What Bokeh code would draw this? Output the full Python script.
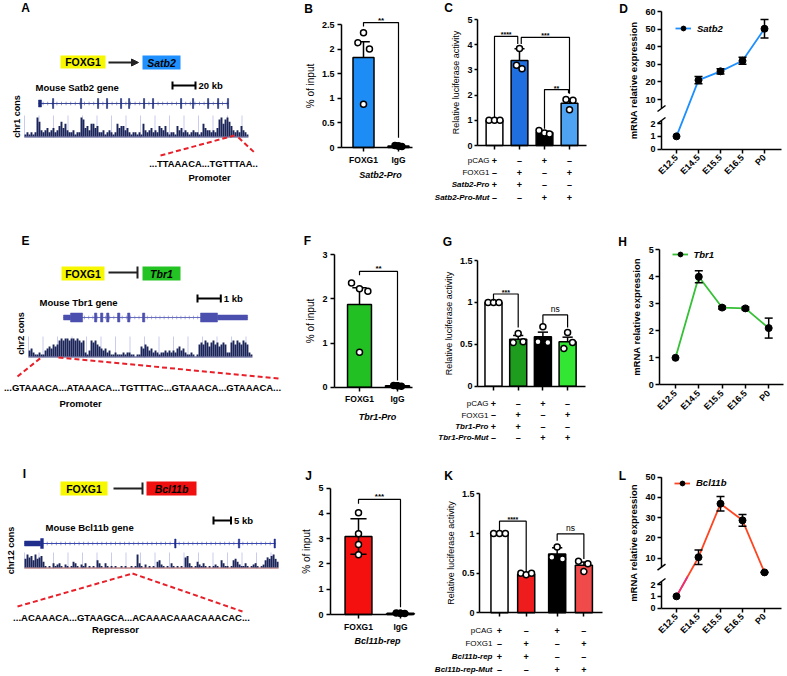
import math
import numpy as np
from bokeh.plotting import figure
from bokeh.models import Range1d, FixedTicker, Arrow, NormalHead, TeeHead, Legend, LegendItem
from bokeh.layouts import row, column
from bokeh.core.properties import value
from bokeh.embed import file_html
from bokeh.resources import INLINE

FONT = "Liberation Sans"

# ======================= DATA =======================
# --- B / F / J : ChIP-qPCR (% of input) ---
chip_groups = ["FOXG1", "IgG"]
satb2_chip_mean = [1.83, 0.03]
satb2_chip_sem = [0.32, 0.01]
satb2_chip_pts = [[2.33, 2.13, 2.00, 0.88], [0.04, 0.03, 0.02, 0.03]]
satb2_chip_jit = [[0.0, -0.16, 0.17, 0.0], [-0.1, 0.0, 0.1, 0.0]]

tbr1_chip_mean = [1.87, 0.03]
tbr1_chip_sem = [0.38, 0.01]
tbr1_chip_pts = [[2.36, 2.23, 2.17, 0.79], [0.04, 0.03, 0.02, 0.03]]
tbr1_chip_jit = [[-0.21, 0.0, 0.22, 0.0], [-0.1, 0.0, 0.1, 0.0]]

bcl11b_chip_mean = [3.08, 0.05]
bcl11b_chip_sem = [0.70, 0.01]
bcl11b_chip_pts = [[4.02, 3.19, 2.77, 2.36], [0.06, 0.05, 0.04, 0.05]]
bcl11b_chip_jit = [[0.0, 0.0, 0.0, 0.0], [-0.1, 0.0, 0.1, 0.0]]

# --- C / G / K : luciferase reporter ---
luc_signs = [["+", "–", "+", "–"], ["–", "+", "–", "+"], ["+", "+", "–", "–"], ["–", "–", "+", "+"]]

satb2_luc_rows = ["pCAG", "FOXG1", "Satb2-Pro", "Satb2-Pro-Mut"]
satb2_luc_mean = [1.00, 3.37, 0.52, 1.68]
satb2_luc_sem = [0.00, 0.47, 0.05, 0.17]
satb2_luc_pts = [[1.0, 1.0, 1.0], [3.85, 3.18, 3.05], [0.60, 0.50, 0.46], [1.83, 1.80, 1.42]]
satb2_luc_jit = [[-0.22, 0.0, 0.22], [0.0, -0.12, 0.1], [-0.22, 0.0, 0.2], [-0.14, 0.14, 0.0]]
satb2_luc_colors = ["white", "#1f6fe0", "black", "#4ea3f2"]
satb2_luc_sig = [(0.0, 0.93, 4.33, 1.12, 4.03, "****"), (1.07, 3.0, 4.29, 4.03, 2.05, "***"),
                 (2.0, 2.96, 2.22, 0.66, 2.07, "**")]

tbr1_luc_rows = ["pCAG", "FOXG1", "Tbr1-Pro", "Tbr1-Pro-Mut"]
tbr1_luc_mean = [1.00, 0.56, 0.59, 0.53]
tbr1_luc_sem = [0.00, 0.045, 0.055, 0.055]
tbr1_luc_pts = [[1.0, 1.0, 1.0], [0.63, 0.52, 0.53], [0.71, 0.53, 0.52], [0.64, 0.52, 0.45]]
tbr1_luc_jit = [[-0.22, 0.0, 0.22], [0.0, -0.2, 0.2], [0.0, -0.2, 0.2], [0.0, 0.2, -0.15]]
tbr1_luc_colors = ["white", "#1e9c1e", "black", "#33e633"]
tbr1_luc_sig = [(0.0, 1.0, 1.10, 1.02, 0.70, "***"), (2.0, 3.0, 0.85, 0.745, 0.70, "ns")]

bcl11b_luc_rows = ["pCAG", "FOXG1", "Bcl11b-rep", "Bcl11b-rep-Mut"]
bcl11b_luc_group = [0, 0, 1, 1]
bcl11b_luc_mean = [1.00, 0.49, 0.74, 0.60]
bcl11b_luc_sem = [0.00, 0.01, 0.08, 0.04]
bcl11b_luc_pts = [[1.0, 1.0, 1.0], [0.50, 0.48, 0.50], [0.83, 0.70, 0.68], [0.65, 0.62, 0.52]]
bcl11b_luc_jit = [[-0.22, 0.0, 0.22], [-0.2, 0.0, 0.2], [0.0, -0.2, 0.2], [-0.2, 0.15, 0.0]]
bcl11b_luc_colors = ["white", "#ee1c1c", "black", "#f04a4a"]
bcl11b_luc_sig = [(0, 1, 1.155, 1.04, 0.51, "****"), (2, 3, 0.995, 0.91, 0.68, "ns")]

# --- D / H / L : developmental mRNA expression ---
stages = ["E12.5", "E14.5", "E15.5", "E16.5", "P0"]
satb2_expr = [1.0, 21.0, 26.0, 32.0, 50.2]
satb2_expr_sem = [0.0, 2.0, 1.5, 2.0, 5.3]
satb2_expr_ticks = [0, 1, 2, 10, 20, 30, 40, 50, 60]
tbr1_expr = [1.0, 4.0, 2.86, 2.83, 2.1]
tbr1_expr_sem = [0.0, 0.22, 0.05, 0.05, 0.37]
tbr1_expr_ticks = [0, 1, 2, 3, 4, 5]
bcl11b_expr = [1.0, 10.5, 36.9, 28.7, 3.0]
bcl11b_expr_sem = [0.0, 3.6, 3.6, 2.9, 0.2]
bcl11b_expr_ticks = [0, 1, 2, 10, 20, 30, 40, 50]

# --- A / E / I : gene models (kb) and conservation (0-9) ---
satb2_exon_start = [0.0, 12.2, 36.5, 51.3, 59.1, 71.3, 78.3, 91.3, 99.1, 123.5, 133.9, 147.0, 155.7, 164.3]
satb2_exon_end = [2.6, 13.2, 37.5, 52.3, 60.1, 72.3, 79.3, 92.3, 100.1, 124.5, 134.9, 148.0, 156.7, 165.3]
satb2_exon_half = [3.5, 5, 5, 5, 5, 5, 5, 5, 5, 5, 5, 5, 5, 5]
satb2_cons = [1, 2, 1, 2, 1, 2, 9, 7, 3, 2, 3, 4, 2, 3, 4, 2, 3, 5, 7, 4, 6, 3, 2, 2, 3, 1, 2, 2, 9, 8, 4,
              5, 3, 6, 6, 4, 5, 2, 2, 3, 1, 2, 3, 2, 1, 2, 6, 4, 5, 5, 3, 4, 2, 1, 2, 2, 1, 2, 1, 6, 3, 2,
              3, 4, 2, 3, 2, 5, 4, 3, 5, 2, 1, 2, 2, 1, 5, 3, 4, 2, 3, 2, 1, 2, 3, 2, 2, 1, 2, 6, 4, 3, 3,
              2, 3, 2, 4, 8, 9, 6, 8, 9, 7, 5, 3, 2, 3, 2, 5, 3, 2, 1]

tbr1_exon_start = [0.0, 0.3, 1.33, 1.59, 1.85, 2.32, 2.75, 3.39, 5.88, 6.61]
tbr1_exon_end = [0.3, 0.82, 1.43, 1.69, 1.95, 2.42, 2.85, 3.49, 6.61, 7.9]
tbr1_exon_half = [2.5, 4.5, 4.5, 4.5, 4.5, 4.5, 4.5, 4.5, 4.5, 2.5]
tbr1_cons = [3, 4, 2, 1, 1, 2, 1, 1, 3, 4, 5, 4, 6, 5, 6, 8, 9, 8, 9, 9, 8, 9, 9, 8, 9, 8, 7, 8, 2, 1,
             3, 8, 7, 8, 6, 5, 4, 3, 4, 2, 3, 1, 1, 2, 1, 1, 1, 2, 1, 2, 2, 1, 1, 0, 1, 1, 5, 4, 6, 5,
             3, 4, 2, 3, 2, 1, 2, 2, 3, 2, 3, 2, 3, 2, 4, 5, 3, 4, 2, 1, 1, 2, 1, 0, 1, 6, 7, 6, 8, 7,
             5, 7, 8, 6, 7, 5, 6, 7, 6, 2, 2, 7, 8, 6, 8, 7, 6, 8, 7, 6, 2, 1]

bcl11b_exon_start = [0.0, 4.6, 42.9, 61.1, 71.3]
bcl11b_exon_end = [4.6, 5.4, 43.3, 61.5, 71.7]
bcl11b_exon_half = [2.5, 5, 4.5, 4.5, 4.5]
bcl11b_cons = [6, 9, 7, 8, 5, 9, 6, 7, 8, 4, 1, 0, 1, 0, 3, 1, 2, 3, 1, 0, 2, 1, 0, 1, 4, 3, 1, 0, 2, 1,
               3, 0, 1, 0, 1, 0, 5, 3, 1, 0, 3, 1, 0, 1, 0, 1, 0, 0, 1, 0, 1, 0, 0, 1, 0, 1, 9, 3, 1, 0,
               2, 0, 1, 0, 1, 0, 4, 5, 2, 1, 0, 1, 0, 3, 1, 0, 1, 0, 1, 0, 7, 8, 3, 1, 0, 1, 4, 2, 1, 3,
               1, 0, 1, 0, 1, 2, 1, 0, 5, 3, 1, 1, 0, 1, 5, 6, 4, 2, 1, 1, 3, 1, 0, 1, 2, 3, 1, 0, 1, 2,
               5, 7, 6, 8, 9, 6, 4]

# ======================= GEOMETRY (window pixels) =======================
ROWS = [(0, 215), (215, 450), (450, 675)]
COLS = [(0, 290), (290, 420), (420, 615), (615, 786)]


def box(r, c):
    return (COLS[c][0], ROWS[r][0], COLS[c][1], ROWS[r][1])


G = {
    "B": dict(fig=box(0, 1), x0=363, xppu=35.0, y0=147, yppu=49.2, ax=341, xend=412, bw=0.6,
              letter=(308, 8), xlab=(380, 174)),
    "F": dict(fig=box(1, 1), x0=359, xppu=38.0, y0=386.7, yppu=44.2, ax=334, xend=412, bw=0.63,
              letter=(307, 240), xlab=(377, 416.5)),
    "J": dict(fig=box(2, 1), x0=358, xppu=42.0, y0=614, yppu=25.3, ax=330, xend=412, bw=0.64,
              letter=(308, 475), xlab=(377, 640)),
    "C": dict(fig=box(0, 2), x0=494, xppu=25.0, y0=145, yppu=25.2, ax=477, xend=586, bw=0.67,
              letter=(448, 7), name_x=489, rows=[160, 172, 184, 197]),
    "G": dict(fig=box(1, 2), x0=493, xppu=24.7, y0=385.7, yppu=83.8, ax=477, xend=585, bw=0.69,
              letter=(447, 241), name_x=488, rows=[403, 414.5, 426, 437]),
    "K": dict(fig=box(2, 2), x0=499, xppu=26.7, y0=612.3, yppu=79.3, ax=479, xend=602, bw=0.64,
              letter=(448, 475), name_x=492, rows=[630, 643, 656, 669]),
    "D": dict(fig=box(0, 3), x0=676, xppu=22.0, y0=148.7, yppu=1.0, ax=661, xend=781,
              letter=(623, 8), legend=(675, 28)),
    "H": dict(fig=box(1, 3), x0=675, xppu=23.3, y0=384.3, yppu=1.0, ax=659.3, xend=783,
              letter=(622, 241), legend=(671.5, 254.3)),
    "L": dict(fig=box(2, 3), x0=676, xppu=22.0, y0=607.7, yppu=1.0, ax=661, xend=781,
              letter=(622, 475), legend=(674, 482.7)),
}


def no_align(p):
    if "frame_align" in p.properties():
        p.frame_align = False


def style_axes(p):
    p.outline_line_color = None
    p.xgrid.visible = False
    p.ygrid.visible = False
    for ax in p.axis:
        ax.axis_line_width = 1.5
        ax.axis_line_color = "black"
        ax.major_tick_line_width = 1.5
        ax.major_tick_line_color = "black"
        ax.major_tick_out = 4
        ax.major_tick_in = 0
        ax.minor_tick_line_color = None
        ax.major_label_text_font = FONT
        ax.major_label_text_font_style = "bold"
        ax.major_label_text_font_size = "8.5px"
        ax.major_label_text_color = "black"
        ax.major_label_standoff = 3
        ax.axis_label_text_font = FONT
        ax.axis_label_text_color = "black"
        ax.axis_label_standoff = 4
    p.yaxis.major_label_text_font_size = "9px"


def chart_fig(g):
    L, T, R, B = g["fig"]

    def X(rx):
        return (rx - g["x0"]) / g["xppu"]

    def Y(ry):
        return (g["y0"] - ry) / g["yppu"]

    p = figure(width=R - L, height=B - T, x_range=Range1d(X(L), X(R)), y_range=Range1d(Y(B), Y(T)),
               title=None, output_backend="svg", toolbar_location=None, min_border=0)
    no_align(p)
    style_axes(p)
    p.yaxis.fixed_location = X(g["ax"])
    p.xaxis.fixed_location = 0
    p.xaxis.bounds = (X(g["ax"]), X(g["xend"]))
    return p, X, Y


def ptext(p, x, y, s, size, style="bold", align="center", baseline="middle", angle=0.0, y_offset=0):
    p.text(x=[x], y=[y], text=[s], text_font=value(FONT), text_font_size=size, text_font_style=style,
           text_align=align, text_baseline=baseline, angle=angle, text_color="black", y_offset=y_offset)


def draw_bracket(p, sig, size):
    x1, x2, top, b1, b2, s = sig
    p.line([x1, x1, x2, x2], [b1, top, top, b2], line_color="black", line_width=1.2)
    ptext(p, (x1 + x2) / 2, top, s, size, style="normal" if s == "ns" else "bold", baseline="bottom",
          y_offset=-1 if s == "ns" else 2)


def bars_with_points(p, xs, means, sems, pts, jit, colors, bw, pt_fill, lower=False):
    p.vbar(x=xs, top=means, bottom=0, width=bw, fill_color=colors, line_color="black", line_width=1.5)
    cap = bw * 0.3
    tops = [m + s for m, s in zip(means, sems)]
    p.segment(x0=xs, y0=means, x1=xs, y1=tops, line_color="black", line_width=1.5)
    p.segment(x0=[x - cap for x in xs], y0=tops, x1=[x + cap for x in xs], y1=tops, line_color="black", line_width=1.5)
    if lower:
        lows = [m - s for m, s in zip(means, sems)]
        p.segment(x0=xs, y0=means, x1=xs, y1=lows, line_color="black", line_width=1.5)
        p.segment(x0=[x - cap for x in xs], y0=lows, x1=[x + cap for x in xs], y1=lows, line_color="black", line_width=1.5)
    px = [x + j for x, js in zip(xs, jit) for j in js]
    py = [v for vs in pts for v in vs]
    pf = [pt_fill[i] for i, vs in enumerate(pts) for _ in vs]
    p.scatter(px, py, marker="circle", size=6, fill_color=pf, line_color="black", line_width=1.5)


def chip_panel(key, letter, means, sems, pts, jit, color, yticks, xlabel, sig, lower=False):
    g = G[key]
    p, X, Y = chart_fig(g)
    xs = list(range(len(chip_groups)))
    bars_with_points(p, xs, means, sems, pts, jit, [color] * len(xs), g["bw"], ["white", "black"], lower)
    draw_bracket(p, sig, "8px")
    p.xaxis.ticker = FixedTicker(ticks=xs)
    p.xaxis.major_label_overrides = {x: c for x, c in zip(xs, chip_groups)}
    p.yaxis.ticker = FixedTicker(ticks=yticks)
    p.yaxis.bounds = (0, yticks[-1])
    p.yaxis.axis_label = "% of input"
    p.yaxis.axis_label_text_font_style = "normal"
    p.yaxis.axis_label_text_font_size = "10px"
    p.yaxis.axis_label_standoff = 3
    ptext(p, X(g["xlab"][0]), Y(g["xlab"][1]), xlabel, "9px", style="bold italic")
    ptext(p, X(g["letter"][0]), Y(g["letter"][1]), letter, "12px")
    return p


def luc_panel(key, letter, xs, means, sems, pts, jit, colors, yticks, rows, sigs):
    g = G[key]
    p, X, Y = chart_fig(g)
    bars_with_points(p, xs, means, sems, pts, jit, colors, g["bw"], ["white"] * 4)
    for s in sigs:
        draw_bracket(p, s, "7px" if s[-1] != "ns" else "8.5px")
    p.xaxis.ticker = FixedTicker(ticks=[], minor_ticks=xs)
    p.xaxis.minor_tick_line_color = "black"
    p.xaxis.minor_tick_line_width = 1.5
    p.xaxis.minor_tick_out = 4
    p.xaxis.minor_tick_in = 0
    p.yaxis.ticker = FixedTicker(ticks=yticks)
    p.yaxis.bounds = (0, yticks[-1])
    p.yaxis.axis_label = "Relative luciferase activity"
    p.yaxis.axis_label_text_font_style = "normal"
    p.yaxis.axis_label_text_font_size = "9px"
    p.yaxis.major_tick_out = 3
    p.yaxis.major_label_standoff = 2
    p.yaxis.axis_label_standoff = 3
    for r, (name, sg) in enumerate(zip(rows, luc_signs)):
        yy = Y(g["rows"][r])
        ptext(p, X(g["name_x"]), yy, name, "8px", style="normal" if r < 2 else "bold italic", align="right")
        for x, s in zip(xs, sg):
            ptext(p, x, yy, s, "9px")
    ptext(p, X(g["letter"][0]), Y(g["letter"][1]), letter, "12px")
    return p


def broken_scale(k_lo, y10, k_hi):
    def f(v):
        return v * k_lo if v <= 2 else y10 + (v - 10) * k_hi
    return f


def expr_panel(key, letter, vals, sems, color, name, yticks, f, broken=False, start_color=None):
    g = G[key]
    p, X, Y = chart_fig(g)
    L, T, R, B = g["fig"]
    xs = list(range(len(stages)))
    ys = [f(v) for v in vals]
    r_line = p.line(xs, ys, line_color=color, line_width=1.8)
    if start_color:
        p.line([xs[0], (xs[0] + xs[1]) / 2], [ys[0], (ys[0] + ys[1]) / 2], line_color=start_color, line_width=1.8)
    sel = [i for i, s in enumerate(sems) if s > 0]
    hi = [f(vals[i] + sems[i]) for i in sel]
    lo = [f(vals[i] - sems[i]) for i in sel]
    ex = [xs[i] for i in sel]
    cap = 4.0 / g["xppu"]
    p.segment(x0=ex, y0=lo, x1=ex, y1=hi, line_color="black", line_width=1.5)
    p.segment(x0=[x - cap for x in ex], y0=hi, x1=[x + cap for x in ex], y1=hi, line_color="black", line_width=1.5)
    p.segment(x0=[x - cap for x in ex], y0=lo, x1=[x + cap for x in ex], y1=lo, line_color="black", line_width=1.5)
    r_pt = p.scatter(xs, ys, marker="circle", size=7, fill_color="black", line_color="black")
    lx, ly = g["legend"]
    leg = Legend(items=[LegendItem(label=name, renderers=[r_line, r_pt])], location=(lx - L, B - ly - 6),
                 label_text_font=FONT, label_text_font_style="bold italic", label_text_font_size="9.5px",
                 label_text_color="black",
                 glyph_width=16, glyph_height=12, label_height=12, label_standoff=6, padding=0, margin=0,
                 spacing=0, border_line_color=None, background_fill_alpha=0)
    p.add_layout(leg)
    tick_pos = [f(t) for t in yticks]
    p.yaxis.ticker = FixedTicker(ticks=tick_pos)
    p.yaxis.major_label_overrides = {tp: str(t) for tp, t in zip(tick_pos, yticks)}
    p.yaxis.bounds = (0, tick_pos[-1])
    p.yaxis.axis_label = "mRNA relative expression"
    p.yaxis.axis_label_text_font_style = "bold"
    p.yaxis.axis_label_text_font_size = "9.5px"
    p.yaxis.axis_label_standoff = 3
    p.yaxis.major_label_standoff = 2
    p.xaxis.ticker = FixedTicker(ticks=xs)
    p.xaxis.major_label_overrides = {x: s for x, s in zip(xs, stages)}
    p.xaxis.major_label_orientation = math.pi / 4
    p.xaxis.major_label_text_font_size = "9px"
    p.yaxis.major_label_text_font_size = "9px"
    if broken:
        p.yaxis.axis_line_color = None
        x_ax = X(g["ax"])
        y_lo_end = f(2) + 3
        y_hi_start = f(10) - 9
        p.line([x_ax, x_ax], [0, y_lo_end], line_color="black", line_width=1.5)
        p.line([x_ax, x_ax], [y_hi_start, tick_pos[-1]], line_color="black", line_width=1.5)
        dx = 4.0 / g["xppu"]
        p.segment(x0=[x_ax - dx] * 2, y0=[y_lo_end - 3, y_hi_start - 3], x1=[x_ax + dx] * 2,
                  y1=[y_lo_end + 3, y_hi_start + 3], line_color="black", line_width=1.5)
    ptext(p, X(g["letter"][0]), Y(g["letter"][1]), letter, "12px")
    return p


# ======================= DIAGRAMS =======================
def diagram(bx, gene_px0, ppk):
    L, T, R, B = bx
    p = figure(width=R - L, height=B - T, x_range=Range1d(L, R), y_range=Range1d(B, T), title=None,
               x_axis_type=None, y_axis_type=None, output_backend="svg", toolbar_location=None, min_border=0)
    no_align(p)
    p.outline_line_color = None
    p.extra_x_ranges = {"kb": Range1d((L - gene_px0) / ppk, (R - gene_px0) / ppk)}
    return p


def draw_header(p, letter, lpos, box1, box2, target, tcolor, arrow_x, arrow_y, inhibit):
    ptext(p, lpos[0], lpos[1], letter, "12px")
    p.quad(left=[box1[0]], right=[box1[1]], top=[box1[2]], bottom=[box1[3]], fill_color="#f7f700", line_color=None)
    ptext(p, (box1[0] + box1[1]) / 2, (box1[2] + box1[3]) / 2, "FOXG1", "10.5px")
    p.quad(left=[box2[0]], right=[box2[1]], top=[box2[2]], bottom=[box2[3]], fill_color=tcolor, line_color=None)
    ptext(p, (box2[0] + box2[1]) / 2, (box2[2] + box2[3]) / 2, target, "10.5px", style="bold italic")
    head = TeeHead(size=12, line_width=2, line_color="#222222") if inhibit else \
        NormalHead(size=7, fill_color="#222222", line_color="#222222")
    p.add_layout(Arrow(end=head, x_start=arrow_x[0], y_start=arrow_y, x_end=arrow_x[1], y_end=arrow_y,
                       line_width=2, line_color="#222222"))


def draw_gene(p, y, starts, ends, halves, color, intron_color, step_kb):
    p.line(x=[starts[0], ends[-1]], y=[y, y], x_range_name="kb", line_color=intron_color, line_width=1)
    ch = np.arange(starts[0] + step_kb, ends[-1], step_kb)
    p.segment(x0=ch, y0=[y - 1.8] * len(ch), x1=ch, y1=[y + 1.8] * len(ch), x_range_name="kb",
              line_color=intron_color, line_width=0.8, line_alpha=0.7)
    p.quad(left=starts, right=ends, top=[y - h for h in halves], bottom=[y + h for h in halves],
           x_range_name="kb", fill_color=color, line_color=color, line_width=0.5)


def draw_cons(p, cons, kb0, kb1, base, hmax, guide_px, color, base_color):
    n = len(cons)
    w = (kb1 - kb0) / n
    xs = kb0 + w * (np.arange(n) + 0.5)
    p.segment(x0=guide_px, y0=[base - hmax - 2] * len(guide_px), x1=guide_px, y1=[base + 1] * len(guide_px),
              line_color="#c9cbef", line_width=1)
    p.line(x=[kb0, kb1], y=[base + 0.5, base + 0.5], x_range_name="kb", line_color=base_color, line_width=1)
    p.vbar(x=xs, width=w * 0.95, bottom=base, top=[base - hmax * c / 9.0 for c in cons], x_range_name="kb",
           fill_color=color, line_color=None)


def scale_bar(p, x, y, length_px, label):
    p.add_layout(Arrow(start=TeeHead(size=8, line_width=2), end=TeeHead(size=8, line_width=2),
                       x_start=x, y_start=y, x_end=x + length_px, y_end=y, line_width=2))
    ptext(p, x + length_px + 3, y, label, "9.5px", align="left")


RED = "#e8202a"

# ---- A ----
pA = diagram(box(0, 0), 38, 1.15)
draw_header(pA, "A", (25, 7), (60, 105, 55, 68), (142, 180, 55, 69), "Satb2", "#1e90ff", (108, 138), 62, False)
ptext(pA, 35, 87, "Mouse Satb2 gene", "9.5px", align="left")
scale_bar(pA, 172, 85, 20 * 1.15, "20 kb")
draw_cons(pA, satb2_cons, -12.2, 182.6, 136, 19, list(np.arange(24, 249, 14.5)), "#1b2559", "#3a3f80")
draw_gene(pA, 103, satb2_exon_start, satb2_exon_end, satb2_exon_half, "#1b2a78", "#3d4a9c", 4.0)
ptext(pA, 16, 116, "chr1 cons", "9px", angle=math.pi / 2)
pA.line([160, 234], [155, 135], line_color=RED, line_width=2, line_dash="5 3")
pA.line([238, 255], [137, 153], line_color=RED, line_width=2, line_dash="5 3")
ptext(pA, 203, 163, "...TTAAACA...TGTTTAA..", "9.4px")
ptext(pA, 209, 177, "Promoter", "9.5px")

# ---- E ----
pE = diagram(box(1, 0), 63, 23.3)
draw_header(pE, "E", (25, 240), (61, 104, 266, 280), (142, 180, 266, 280), "Tbr1", "#22c322", (108, 137), 272, True)
ptext(pE, 39, 302, "Mouse Tbr1 gene", "9.5px", align="left")
scale_bar(pE, 197, 298, 23.3, "1 kb")
draw_cons(pE, tbr1_cons, -1.5, 8.11, 356, 18, list(np.arange(28, 253, 14.5)), "#1b2559", "#3a3f80")
draw_gene(pE, 317, tbr1_exon_start, tbr1_exon_end, tbr1_exon_half, "#4b4fae", "#6a6fc0", 0.18)
ptext(pE, 20, 333, "chr2 cons", "9px", angle=math.pi / 2)
pE.line([17, 42], [376, 356], line_color=RED, line_width=2, line_dash="5 3")
pE.line([58, 278], [357, 378], line_color=RED, line_width=2, line_dash="5 3")
ptext(pE, 142, 387, "...GTAAACA...ATAAACA...TGTTTAC...GTAAACA...GTAAACA...", "9.5px")
ptext(pE, 80, 403, "Promoter", "9.5px")

# ---- I ----
pI = diagram(box(2, 0), 24, 3.5)
draw_header(pI, "I", (24, 473), (60, 107, 481, 495), (146, 196, 481, 495), "Bcl11b", "#f01010", (113, 142), 488, True)
ptext(pI, 45, 527, "Mouse Bcl11b gene", "9.5px", align="left")
scale_bar(pI, 213, 520, 5 * 3.5, "5 kb")
draw_cons(pI, bcl11b_cons, 0.0, 72.6, 567, 13, list(np.arange(24, 279, 14.5)), "#1b2559", "#a04848")
draw_gene(pI, 543, bcl11b_exon_start, bcl11b_exon_end, bcl11b_exon_half, "#1f2d8c", "#3a4ab0", 1.3)
ptext(pI, 10, 550, "chr12 cons", "9px", angle=math.pi / 2)
pI.line([17, 132], [606, 573], line_color=RED, line_width=2, line_dash="5 3")
pI.line([132, 242], [573, 611], line_color=RED, line_width=2, line_dash="5 3")
ptext(pI, 131, 617, "...ACAAACA...GTAAGCA...ACAAACAAACAAACAC...", "9.5px")
ptext(pI, 115, 629, "Repressor", "9.5px")

# ---- B / F / J ----
pB = chip_panel("B", "B", satb2_chip_mean, satb2_chip_sem, satb2_chip_pts, satb2_chip_jit, "#1e8cf5",
                [0, 0.5, 1.0, 1.5, 2.0, 2.5], "Satb2-Pro", (0, 1, 2.54, 2.46, 0.2, "**"))
pF = chip_panel("F", "F", tbr1_chip_mean, tbr1_chip_sem, tbr1_chip_pts, tbr1_chip_jit, "#22c022",
                [0, 1, 2, 3], "Tbr1-Pro", (0, 1, 2.62, 2.53, 0.15, "**"))
pJ = chip_panel("J", "J", bcl11b_chip_mean, bcl11b_chip_sem, bcl11b_chip_pts, bcl11b_chip_jit, "#f51010",
                [0, 1, 2, 3, 4, 5], "Bcl11b-rep", (0, 1, 4.55, 4.38, 0.29, "***"), lower=True)

# ---- C / G / K ----
pC = luc_panel("C", "C", [0, 1, 2, 3], satb2_luc_mean, satb2_luc_sem, satb2_luc_pts, satb2_luc_jit,
               satb2_luc_colors, [0, 1, 2, 3, 4, 5], satb2_luc_rows, satb2_luc_sig)
pG = luc_panel("G", "G", [0, 1, 2, 3], tbr1_luc_mean, tbr1_luc_sem, tbr1_luc_pts, tbr1_luc_jit,
               tbr1_luc_colors, [0, 0.5, 1.0, 1.5], tbr1_luc_rows, tbr1_luc_sig)
k_gap = 0.16
k_xs = [i + k_gap * grp for i, grp in enumerate(bcl11b_luc_group)]
k_sig = [(k_xs[a], k_xs[b], t, b1, b2, s) for a, b, t, b1, b2, s in bcl11b_luc_sig]
pK = luc_panel("K", "K", k_xs, bcl11b_luc_mean, bcl11b_luc_sem, bcl11b_luc_pts, bcl11b_luc_jit,
               bcl11b_luc_colors, [0, 0.5, 1.0, 1.5], bcl11b_luc_rows, k_sig)

# ---- D / H / L ----
pD = expr_panel("D", "D", satb2_expr, satb2_expr_sem, "#1e8fff", "Satb2", satb2_expr_ticks,
                broken_scale(12.85, 49.7, 1.76), broken=True)
pH = expr_panel("H", "H", tbr1_expr, tbr1_expr_sem, "#35c035", "Tbr1", tbr1_expr_ticks,
                lambda v: 27.0 * v)
pL = expr_panel("L", "L", bcl11b_expr, bcl11b_expr_sem, "#ff4520", "Bcl11b", bcl11b_expr_ticks,
                broken_scale(11.85, 50.0, 2.025), broken=True, start_color="#e8307a")

layout = column(row(pA, pB, pC, pD, spacing=0), row(pE, pF, pG, pH, spacing=0), row(pI, pJ, pK, pL, spacing=0),
                spacing=0)
open("out.html", "w").write(file_html(layout, INLINE))
